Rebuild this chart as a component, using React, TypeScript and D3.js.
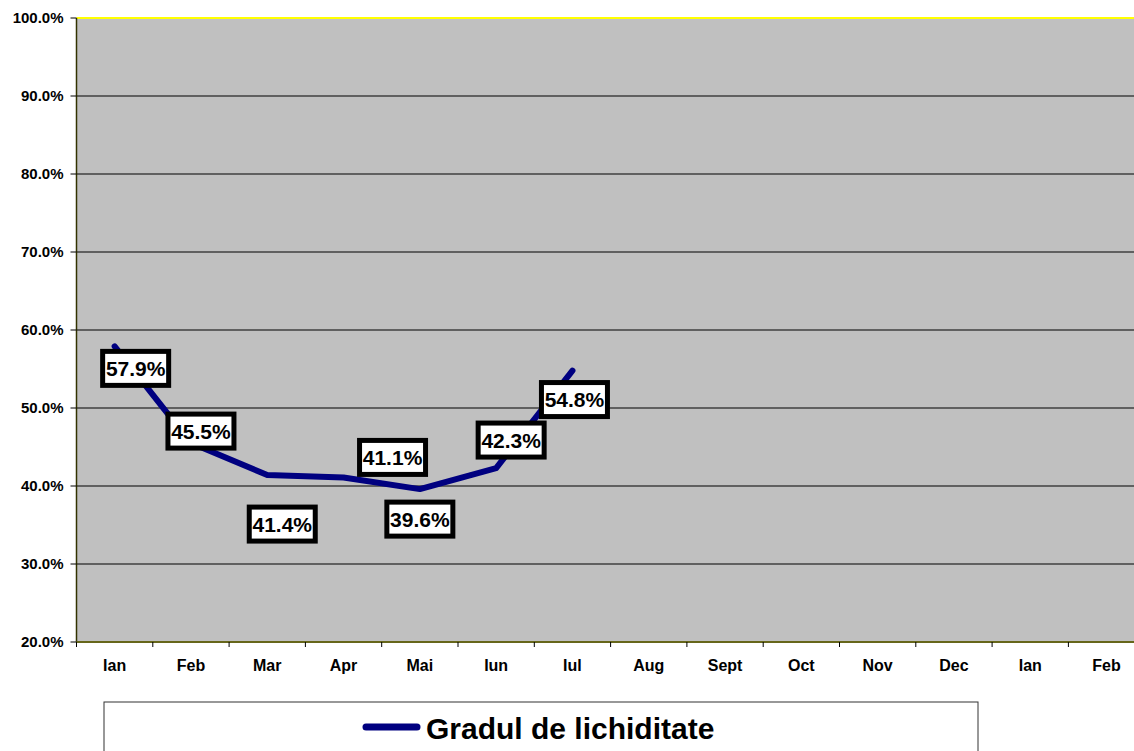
import React, { useRef, useEffect } from 'react';
import * as d3 from 'd3';

// months shown on the category axis
const months = ['Ian', 'Feb', 'Mar', 'Apr', 'Mai', 'Iun', 'Iul', 'Aug', 'Sept', 'Oct', 'Nov', 'Dec', 'Ian', 'Feb'];
// Gradul de lichiditate (%), only first 7 months have data
const lichiditate = [57.9, 45.5, 41.4, 41.1, 39.6, 42.3, 54.8];
const yTicks = [20, 30, 40, 50, 60, 70, 80, 90, 100];
const seriesName = 'Gradul de lichiditate';

// manual placement of the data labels relative to the point (px)
const labelOffsets: [number, number][] = [
  [21, 22], [10, -12], [15, 49], [49, -20], [0, 30], [15, -28], [2, 29],
];

const W = 1134;
const H = 751;
const FONT = '"Liberation Sans", Arial, sans-serif';

export default function App() {
  const svgRef = useRef<SVGSVGElement>(null);

  useEffect(() => {
    if (!svgRef.current) return;
    const svg = d3.select(svgRef.current);
    svg.selectAll('*').remove();

    const left = 76.5, top = 18, bottom = 642;
    const band = 76.3;
    const right = left + band * months.length;

    const x = d3.scaleBand<number>().domain(d3.range(months.length)).range([left, right]).paddingInner(0).paddingOuter(0);
    const y = d3.scaleLinear().domain([20, 100]).range([bottom, top]);

    // plot background
    svg.append('rect').attr('x', left).attr('y', top).attr('width', right - left).attr('height', bottom - top).attr('fill', '#c0c0c0');

    // gridlines
    svg.append('g').selectAll('line').data(yTicks.filter(t => t > 20 && t < 100)).join('line')
      .attr('x1', left).attr('x2', right)
      .attr('y1', d => y(d)).attr('y2', d => y(d))
      .attr('stroke', '#000').attr('stroke-width', 1);
    svg.append('line').attr('x1', left).attr('x2', right).attr('y1', y(100)).attr('y2', y(100))
      .attr('stroke', '#ffff00').attr('stroke-width', 2);

    // y axis
    const ya = svg.append('g');
    ya.append('line').attr('x1', left).attr('x2', left).attr('y1', top).attr('y2', bottom).attr('stroke', '#333300').attr('stroke-width', 1.5);
    ya.selectAll('line.tk').data(yTicks).join('line').attr('class', 'tk')
      .attr('x1', left - 6).attr('x2', left).attr('y1', d => y(d)).attr('y2', d => y(d))
      .attr('stroke', '#000');
    ya.selectAll('text').data(yTicks).join('text')
      .attr('x', left - 13).attr('y', d => y(d)).attr('dy', '0.35em')
      .attr('text-anchor', 'end').style('font', `bold 15px ${FONT}`).attr('fill', '#000')
      .text(d => d3.format('.1f')(d) + '%');

    // x axis
    const xa = svg.append('g');
    xa.append('line').attr('x1', left).attr('x2', right).attr('y1', bottom).attr('y2', bottom).attr('stroke', '#66661a').attr('stroke-width', 2);
    xa.selectAll('line.tk').data(d3.range(months.length + 1)).join('line').attr('class', 'tk')
      .attr('x1', i => left + i * x.bandwidth()).attr('x2', i => left + i * x.bandwidth())
      .attr('y1', bottom).attr('y2', bottom + 5).attr('stroke', '#000');
    xa.selectAll('text').data(months).join('text')
      .attr('x', (_, i) => (x(i) || 0) + x.bandwidth() / 2).attr('y', 671)
      .attr('text-anchor', 'middle').style('font', `bold 16px ${FONT}`).attr('fill', '#000')
      .text(d => d);

    // series line
    const cx = (i: number) => (x(i) || 0) + x.bandwidth() / 2;
    const line = d3.line<number>().x((_, i) => cx(i)).y(d => y(d));
    svg.append('path').datum(lichiditate)
      .attr('d', line).attr('fill', 'none')
      .attr('stroke', '#000080').attr('stroke-width', 6)
      .attr('stroke-linejoin', 'round').attr('stroke-linecap', 'round');

    // data labels
    const lg = svg.append('g');
    lichiditate.forEach((v, i) => {
      const lx = cx(i) + labelOffsets[i][0];
      const ly = y(v) + labelOffsets[i][1];
      lg.append('rect').attr('x', lx - 33).attr('y', ly - 17).attr('width', 66).attr('height', 34)
        .attr('fill', '#fff').attr('stroke', '#000').attr('stroke-width', 5);
      lg.append('text').attr('x', lx).attr('y', ly).attr('dy', '0.36em')
        .attr('text-anchor', 'middle').style('font', `bold 21px ${FONT}`).attr('fill', '#000')
        .text(d3.format('.1f')(v) + '%');
    });

    // legend
    const leg = svg.append('g');
    leg.append('rect').attr('x', 104).attr('y', 702).attr('width', 874).attr('height', 60)
      .attr('fill', '#fff').attr('stroke', '#333').attr('stroke-width', 1);
    leg.append('line').attr('x1', 366).attr('x2', 417).attr('y1', 727).attr('y2', 727)
      .attr('stroke', '#000080').attr('stroke-width', 7).attr('stroke-linecap', 'round');
    leg.append('text').attr('x', 426).attr('y', 739)
      .style('font', `bold 30px ${FONT}`).attr('fill', '#000').text(seriesName);
  }, []);

  return (
    <div style={{ position: 'absolute', left: 0, top: 0, width: W, height: H, overflow: 'hidden', background: '#fff' }}>
      <svg ref={svgRef} width={W} height={H} style={{ display: 'block' }} />
    </div>
  );
}
